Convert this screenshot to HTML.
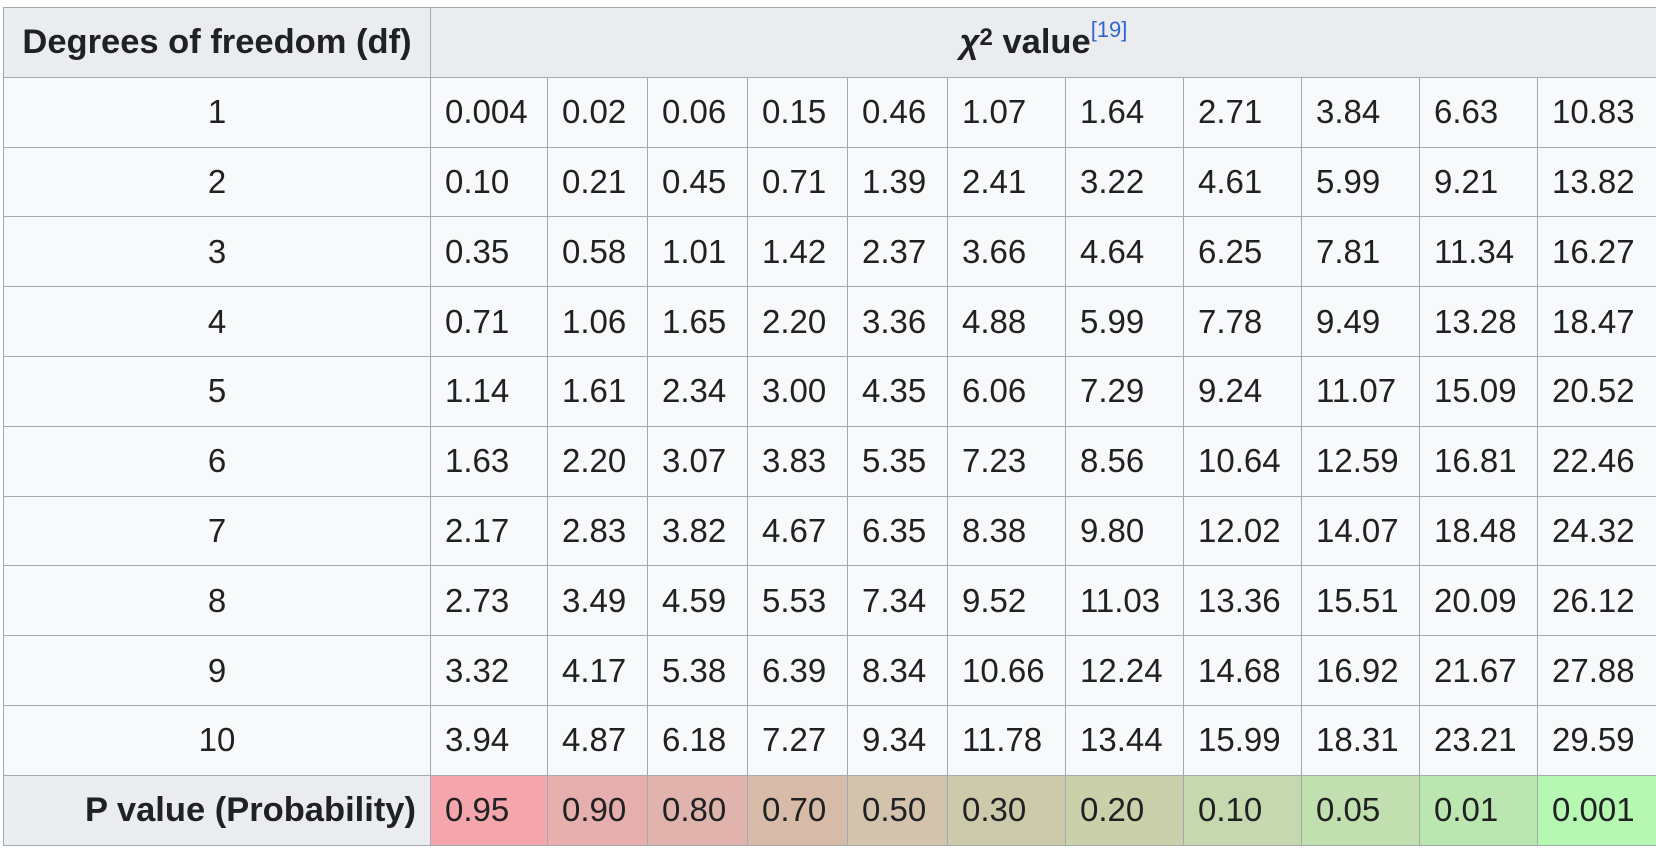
<!DOCTYPE html>
<html>
<head>
<meta charset="utf-8">
<style>
html,body{margin:0;padding:0;background:#fff;width:1656px;height:852px;overflow:hidden;}
table{position:absolute;left:3px;top:7px;border-collapse:collapse;table-layout:fixed;width:1653px;
 font-family:"Liberation Sans",Arial,sans-serif;font-size:33px;color:#202122;background:#f8f9fa;}
td,th{border:1px solid #a2a9b1;padding:0 14px;height:69.8px;box-sizing:border-box;white-space:nowrap;overflow:hidden;}
tr{height:69.8px;}
th{background:#eaecf0;font-weight:bold;font-size:34.5px;}
td{text-align:left;}
td.df{text-align:center;}
th.plabel{text-align:right;}
sup{font-size:22px;color:#3366cc;font-weight:normal;vertical-align:top;position:relative;top:-6px;}
</style>
</head>
<body>
<table id="chi">
<colgroup>
<col style="width:427px"><col style="width:117px"><col style="width:100px"><col style="width:100px"><col style="width:100px"><col style="width:100px"><col style="width:118px"><col style="width:118px"><col style="width:118px"><col style="width:118px"><col style="width:118px"><col style="width:119px">
</colgroup>
<thead>
<tr>
<th>Degrees of freedom (df)</th>
<th colspan="11"><i>χ</i><span style="position:relative;top:-8px;font-size:24px">2</span> value<sup>[19]</sup></th>
</tr>
</thead>
<tbody id="tb"></tbody>
</table>
<script>
const dfs = [1,2,3,4,5,6,7,8,9,10];
const r1 = ["0.004","0.02","0.06","0.15","0.46","1.07","1.64","2.71","3.84","6.63","10.83"];
const r2 = ["0.10","0.21","0.45","0.71","1.39","2.41","3.22","4.61","5.99","9.21","13.82"];
const r3 = ["0.35","0.58","1.01","1.42","2.37","3.66","4.64","6.25","7.81","11.34","16.27"];
const r4 = ["0.71","1.06","1.65","2.20","3.36","4.88","5.99","7.78","9.49","13.28","18.47"];
const r5 = ["1.14","1.61","2.34","3.00","4.35","6.06","7.29","9.24","11.07","15.09","20.52"];
const r6 = ["1.63","2.20","3.07","3.83","5.35","7.23","8.56","10.64","12.59","16.81","22.46"];
const r7 = ["2.17","2.83","3.82","4.67","6.35","8.38","9.80","12.02","14.07","18.48","24.32"];
const r8 = ["2.73","3.49","4.59","5.53","7.34","9.52","11.03","13.36","15.51","20.09","26.12"];
const r9 = ["3.32","4.17","5.38","6.39","8.34","10.66","12.24","14.68","16.92","21.67","27.88"];
const r10 = ["3.94","4.87","6.18","7.27","9.34","11.78","13.44","15.99","18.31","23.21","29.59"];
const pValues = ["0.95","0.90","0.80","0.70","0.50","0.30","0.20","0.10","0.05","0.01","0.001"];
const pColors = ["#f4a6ac","#e6aeac","#e0b4ad","#d7bba8","#d3c3ad","#cdc9ab","#c9d0aa","#c5d8ae","#c2dfb0","#bce6b0","#b6f7b2"];
const rows = [r1,r2,r3,r4,r5,r6,r7,r8,r9,r10];
const tb = document.getElementById('tb');
rows.forEach((vals,i)=>{
  const tr = document.createElement('tr');
  
  
  const d = document.createElement('td');
  d.className = 'df';
  d.textContent = dfs[i];
  
  
  tr.appendChild(d);
  vals.forEach((v,j)=>{
    const c = document.createElement('td');
    c.textContent = v;
    
    
    tr.appendChild(c);
  });
  tb.appendChild(tr);
});
const pr = document.createElement('tr');


const ph = document.createElement('th');
ph.className = 'plabel';
ph.textContent = 'P value (Probability)';


pr.appendChild(ph);
pValues.forEach((v,j)=>{
  const c = document.createElement('td');
  c.textContent = v;
  c.style.background = pColors[j];
  
  
  pr.appendChild(c);
});
tb.appendChild(pr);
</script>
</body>
</html>
